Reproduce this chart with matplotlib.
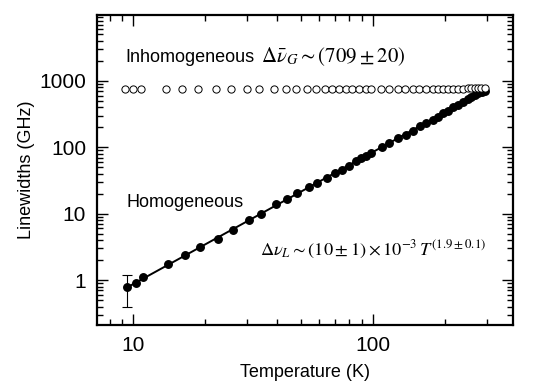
import matplotlib

matplotlib.use("Agg")
import matplotlib.pyplot as plt
import numpy as np
from matplotlib.ticker import FixedLocator, LogLocator, NullFormatter


# homogeneous linewidths (filled circles)
T_HOMOG = [9.4, 10.3, 11.0, 14.0, 16.4, 19.1, 22.5, 26.1, 30.4, 34.3, 39.6, 43.7,
           48.4, 54.2, 58.8, 64.7, 69.7, 74.3, 79.8, 85.1, 89.3, 93.7, 98.4, 109,
           117.5, 127.4, 138, 148, 158.5, 167.5, 178.6, 187.5, 196.8, 206.5, 216.8,
           227.5, 238.7, 250.4, 258.7, 267.2, 276.1, 285.2, 294.6]
W_HOMOG = [0.79, 0.91, 1.12, 1.72, 2.38, 3.1, 4.1, 5.7, 8.0, 9.9, 13.8, 16.6,
           20.3, 25.0, 29.3, 34.1, 40.6, 45.5, 52.9, 62.2, 68.3, 74.0, 81.3, 102,
           117, 137, 154, 176, 210, 230, 258, 290, 326, 353, 401,
           435, 488, 530, 561, 601, 644, 682, 714]
ERR_LOW = 0.40
ERR_HIGH = 1.19

# inhomogeneous linewidths (open circles)
T_INHOMOG = [9.23, 10.0, 10.77, 13.7, 16.0, 18.56, 22.1, 25.6, 29.9, 33.4, 38.9,
             43.5, 48.1, 53.0, 57.8, 63.1, 67.9, 72.4, 77.3, 82.4, 87.9, 93.7,
             98.4, 108.4, 117.5, 127.4, 136.8, 147.2, 157, 167.5, 178.6, 187.5,
             196.8, 206.5, 216.8, 227.5, 238.7, 250.4, 258.7, 267, 276, 285, 295]
W_INHOMOG = [745, 745, 745, 750, 750, 750, 745, 745, 750, 750, 750,
             750, 745, 750, 745, 750, 750, 750, 750, 750, 750, 750,
             750, 750, 745, 745, 750, 750, 750, 755, 755, 760,
             760, 760, 760, 765, 765, 770, 770, 775, 780, 780, 785]

plt.rcParams["font.family"] = ["Liberation Sans", "DejaVu Sans"]
plt.rcParams["mathtext.fontset"] = "stix"

fig = plt.figure(figsize=(5.46, 3.83), dpi=100)
ax = fig.add_axes([0.178, 0.151, 0.762, 0.810])

t_h = np.asarray(T_HOMOG)
w_h = np.asarray(W_HOMOG)

# power-law fit drawn through the homogeneous data
slope, intercept = np.polyfit(np.log10(t_h), np.log10(w_h), 1)
t_fit = np.array([t_h.min(), t_h.max()])
ax.plot(t_fit, 10 ** (intercept + slope * np.log10(t_fit)), "-", color="black", lw=1.4)

ax.plot(t_h, w_h, "o", color="black", markersize=5.4)
ax.errorbar([t_h[0]], [w_h[0]],
            yerr=[[w_h[0] - ERR_LOW], [ERR_HIGH - w_h[0]]],
            fmt="none", ecolor="black", elinewidth=0.8, capsize=3.5, capthick=0.8)

ax.plot(T_INHOMOG, W_INHOMOG, "o", markerfacecolor="white", markeredgecolor="black",
        markersize=5.2, markeredgewidth=0.7)

ax.set_xscale("log")
ax.set_yscale("log")
ax.set_xlim(7.07, 387)
ax.set_ylim(0.21, 9800)

ax.xaxis.set_major_locator(FixedLocator([10, 100]))
ax.xaxis.set_minor_locator(LogLocator(base=10, subs=np.arange(2, 10)))
ax.xaxis.set_minor_formatter(NullFormatter())
ax.set_xticklabels(["10", "100"])
ax.yaxis.set_major_locator(FixedLocator([1, 10, 100, 1000]))
ax.yaxis.set_minor_locator(LogLocator(base=10, subs=np.arange(2, 10)))
ax.yaxis.set_minor_formatter(NullFormatter())
ax.set_yticklabels(["1", "10", "100", "1000"])

ax.tick_params(which="both", direction="in", top=True, right=True, width=1.0)
ax.tick_params(which="major", length=8, labelsize=15, pad=8)
ax.tick_params(which="minor", length=4.5)
for spine in ax.spines.values():
    spine.set_linewidth(1.6)

ax.set_xlabel("Temperature (K)", fontsize=13, labelpad=6)
ax.set_ylabel("Linewidths (GHz)", fontsize=13, labelpad=3)

ax.text(0.067, 0.848, "Inhomogeneous", transform=ax.transAxes, fontsize=13,
        va="baseline", ha="left")
ax.text(0.393, 0.848, r"$\Delta\bar{\nu}_G \sim (709 \pm 20)$",
        transform=ax.transAxes, fontsize=15, va="baseline", ha="left")
ax.text(0.070, 0.381, "Homogeneous", transform=ax.transAxes, fontsize=13,
        va="baseline", ha="left")
ax.text(0.392, 0.226, r"$\Delta\nu_L \sim (10 \pm 1) \times 10^{-3}\, T^{(1.9 \pm 0.1)}$",
        transform=ax.transAxes, fontsize=13.2, va="baseline", ha="left")

fig.savefig("out.png", dpi=100)
